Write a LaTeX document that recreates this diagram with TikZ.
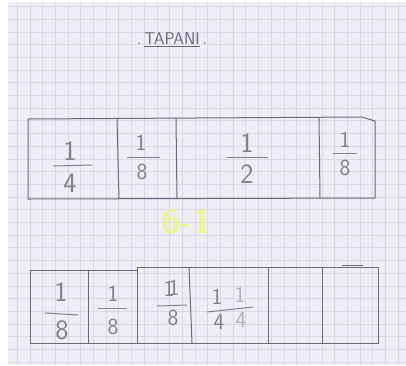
\documentclass[tikz,border=0pt]{standalone}
\usepackage{xcolor}
\usepackage{tikz}
\definecolor{papertint}{RGB}{239,238,246}
\definecolor{gridtint}{RGB}{216,216,230}
\definecolor{pencil}{RGB}{105,105,128}
\definecolor{leadgray}{RGB}{128,128,145}
\definecolor{highlight}{RGB}{238,246,110}

\begin{document}
\begin{tikzpicture}[
  x=1pt,y=-1pt,
  every node/.style={font=\sffamily,inner sep=0pt},
  gridline/.style={draw=gridtint,line width=0.7pt},
  pencilline/.style={draw=pencil,line width=1pt},
  fracbar/.style={draw=leadgray,line width=1pt},
  digit/.style={text=leadgray,font=\sffamily\fontsize{28}{28}\selectfont},
  smalldigit/.style={text=leadgray,font=\sffamily\fontsize{23}{23}\selectfont},
  fadedigit/.style={text=leadgray!60,font=\sffamily\fontsize{23}{23}\selectfont}
]
% paper and squares
\useasboundingbox (0,0) rectangle (406,365);
\fill[white] (0,0) rectangle (406,365);
\fill[papertint] (8,2) rectangle (406,365);
\foreach \i in {1,...,31}
  \draw[gridline] ({4.5+12.7*\i},2) -- ({4.5+12.7*\i},365);
\foreach \j in {0,...,28}
  \draw[gridline] (8,{6.5+12.7*\j}) -- (406,{6.5+12.7*\j});

% title
\node[text=pencil,font=\sffamily\fontsize{17}{17}\selectfont] (title) at (172,40) {.\,\underline{TAPANI}\,.};

% upper strip
\draw[pencilline] (28,119) -- (362,117) -- (375,121) -- (375,198) -- (28,199) -- cycle;
\draw[pencilline] (117,119) -- (119,199);
\draw[pencilline] (176,118) -- (177,199);
\draw[pencilline] (319,117) -- (320,198);

\node[digit] (q1num) at (70,151) {1};
\draw[fracbar] (53,166) -- (92,165);
\node[digit] (q1den) at (70,183) {4};

\node[smalldigit] (e1num) at (141,143) {1};
\draw[fracbar] (127,157) -- (160,157);
\node[smalldigit] (e1den) at (142,172) {8};

\node[digit] (h1num) at (247,143) {1};
\draw[fracbar] (227,157) -- (268,157);
\node[digit] (h1den) at (247,174) {2};

\node[smalldigit] (e2num) at (345,140) {1};
\draw[fracbar] (333,153) -- (357,153);
\node[smalldigit] (e2den) at (345,168) {8};

% yellow mark
\node[text=highlight,opacity=0.7,font=\sffamily\bfseries\fontsize{34}{34}\selectfont] (mark) at (186,222) {6-1};

% lower strip
\draw[pencilline] (30,270) -- (137,270) -- (137,267) -- (378,267) -- (378,343) -- (30,343) -- cycle;
\draw[pencilline] (88,270) -- (88,343);
\draw[pencilline] (137,267) -- (137,343);
\draw[pencilline] (189,267) -- (192,343);
\draw[pencilline] (268,267) -- (268,343);
\draw[pencilline] (322,267) -- (322,343);
\draw[pencilline] (342,265) -- (363,265);

\node[digit] (b1num) at (61,292) {1};
\draw[fracbar] (45,313) -- (78,315);
\node[digit] (b1den) at (62,330) {8};

\node[smalldigit] (b2num) at (113,294) {1};
\draw[fracbar] (98,308) -- (127,308);
\node[smalldigit] (b2den) at (113,327) {8};

\node[smalldigit] (b3num) at (169,289) {1};
\node[smalldigit] (b3numb) at (174,288) {1};
\draw[fracbar] (157,306) -- (187,305);
\node[smalldigit] (b3den) at (173,318) {8};

\node[smalldigit] (b4numa) at (217,297) {1};
\node[fadedigit] (b4numb) at (240,295) {1};
\draw[fracbar] (207,312) -- (253,307);
\node[smalldigit] (b4dena) at (219,322) {4};
\node[fadedigit] (b4denb) at (241,320) {4};
\end{tikzpicture}
\end{document}
